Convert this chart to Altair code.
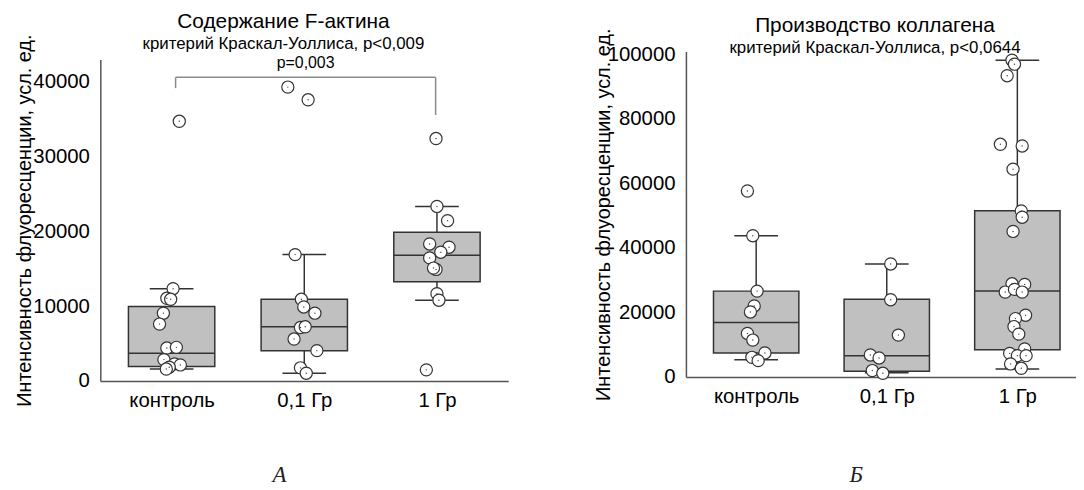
import json
import altair as alt
import pandas as pd

categories = ["контроль", "0,1 Гр", "1 Гр"]
y_title = "Интенсивность флуоресценции, усл. ед."

# ---------- Panel A: F-actin ----------
actin_title = "Содержание F-актина"
actin_subtitle = "критерий Краскал-Уоллиса, p<0,009"
actin_q1 = [1930, 4060, 13270]
actin_median = [3700, 7250, 16820]
actin_q3 = [9950, 10930, 19880]
actin_low = [1620, 1040, 10800]
actin_high = [12340, 16900, 23340]

actin_ctrl = [34730, 12340, 11060, 10930, 9070, 7610, 4410, 4500, 2860, 2290, 2150, 1840, 1600]
actin_ctrl_jit = [0.058, 0.011, -0.036, -0.007, -0.062, -0.091, -0.036, 0.036, -0.058, 0.022, 0.066, -0.018, -0.040]
actin_01 = [39300, 37600, 16900, 10930, 9900, 9070, 7150, 7250, 5610, 4060, 1760, 1040]
actin_01_jit = [-0.124, 0.029, -0.069, -0.022, -0.004, 0.080, -0.029, 0.007, -0.077, 0.095, -0.029, 0.015]
actin_1 = [32420, 23340, 21440, 18320, 17890, 17220, 16460, 14920, 15100, 11680, 10800, 1490]
actin_1_jit = [-0.007, 0.0, 0.080, -0.055, 0.091, 0.029, -0.055, -0.007, -0.026, 0.0, 0.015, -0.080]
actin_ticks = [0, 10000, 20000, 30000, 40000]

bracket_x = [0.53, 2.49]
bracket_top = 40600
bracket_ends = [39160, 35570]
p_label = "p=0,003"
p_label_y = 41820

# ---------- Panel Б: collagen ----------
coll_title = "Производство коллагена"
coll_subtitle = "критерий Краскал-Уоллиса, p<0,0644"
coll_q1 = [7450, 1780, 8460]
coll_median = [16860, 6600, 26620]
coll_q3 = [26600, 24060, 51450]
coll_low = [5380, 1290, 2520]
coll_high = [43750, 35000, 98090]

coll_ctrl = [57600, 43750, 26600, 22000, 20150, 13480, 11450, 7450, 6100, 5080]
coll_ctrl_jit = [-0.067, -0.026, 0.007, -0.015, -0.044, -0.067, -0.026, 0.067, -0.033, 0.015]
coll_01 = [35000, 23940, 12980, 6830, 5900, 2000, 1170]
coll_01_jit = [0.030, 0.030, 0.089, -0.126, -0.059, -0.111, -0.030]
coll_1 = [98090, 96860, 93290, 72060, 71540, 64370, 51450, 49480, 45080, 28870, 28680,
          26310, 27140, 26310, 19140, 18090, 15630, 13290, 8680, 7320, 6620, 6620, 4060, 2710]
coll_1_jit = [-0.041, -0.022, -0.078, -0.130, 0.037, -0.033, 0.030, 0.037, -0.033, -0.041, 0.056,
              -0.093, -0.022, 0.037, 0.063, -0.015, -0.026, 0.011, 0.056, -0.059, 0.0, 0.067, -0.052, 0.030]
coll_ticks = [0, 20000, 40000, 60000, 80000, 100000]

FONT = "Liberation Sans"
DARK = "#333333"


def make_panel(title, subtitle, q1, med, q3, lo, hi, groups, jitters, yticks,
               ydomain, yrange, height, width, xmax, letter, letter_x, letter_y,
               title_dx, title_offset, box_w, ytitle_x, bracket=None):
    idx = [i + 0.5 for i in range(len(categories))]
    box = pd.DataFrame({"idx": idx, "q1": q1, "med": med, "q3": q3, "lo": lo, "hi": hi})
    rows = []
    for i, (vals, jit) in enumerate(zip(groups, jitters)):
        for v, j in zip(vals, jit):
            rows.append({"idx": i + 0.5, "jit": j, "val": v})
    pts = pd.DataFrame(rows)

    label_expr = json.dumps(categories, ensure_ascii=False) + "[floor(datum.value)]"
    xscale = alt.Scale(domain=[0, xmax], nice=False, zero=False)
    xaxis = alt.Axis(values=idx, labelExpr=label_expr, labelFontSize=20.5, labelPadding=10,
                     labelFont=FONT, labelColor="black",
                     title=letter, titleFont="Liberation Serif", titleFontStyle="italic",
                     titleFontSize=23, titleFontWeight="normal", titleColor="#222222",
                     titleX=letter_x, titleY=letter_y, titleBaseline="alphabetic",
                     titleAlign="center")
    yscale_args = dict(domain=ydomain, nice=False, zero=False)
    if yrange is not None:
        yscale_args["range"] = yrange
    yscale = alt.Scale(**yscale_args)
    yaxis = alt.Axis(values=yticks, format="d", labelFontSize=20.5, labelPadding=11,
                     labelFont=FONT, labelColor="black",
                     title=y_title, titleFont=FONT, titleFontSize=20,
                     titleFontWeight="normal", titleColor="black", titleX=ytitle_x)

    def X(f):
        return alt.X(f, type="quantitative", scale=xscale, axis=xaxis)

    def Y(f):
        return alt.Y(f, type="quantitative", scale=yscale, axis=yaxis)

    base = alt.Chart(box)
    whisk = base.mark_rule(color=DARK, strokeWidth=1.5).encode(x=X("idx"), y=Y("lo"), y2="hi")
    cap_hi = base.mark_tick(orient="horizontal", size=44, thickness=1.5, color=DARK, opacity=1).encode(
        x=X("idx"), y=Y("hi"))
    cap_lo = base.mark_tick(orient="horizontal", size=44, thickness=1.5, color=DARK, opacity=1).encode(
        x=X("idx"), y=Y("lo"))
    boxes = base.mark_bar(width=box_w, fill="#c0c0c0", stroke=DARK, strokeWidth=1.5).encode(
        x=X("idx"), y=Y("q1"), y2="q3")
    median = base.mark_tick(orient="horizontal", size=box_w, thickness=1.5, color=DARK, opacity=1).encode(
        x=X("idx"), y=Y("med"))
    pbase = alt.Chart(pts).transform_calculate(xp="datum.idx + datum.jit")
    circles = pbase.mark_point(shape="circle", filled=True, fill="white", stroke=DARK,
                               strokeWidth=1.2, size=150, opacity=1).encode(x=X("xp"), y=Y("val"))
    dots = pbase.mark_circle(size=2, color="#444444", opacity=1).encode(x=X("xp"), y=Y("val"))

    layers = [whisk, cap_hi, cap_lo, boxes, median]
    if bracket is not None:
        bx, btop, bends, plab, ply = bracket
        hdf = pd.DataFrame({"x1": [bx[0]], "x2": [bx[1]], "y": [btop]})
        vdf = pd.DataFrame({"x": bx, "y1": [btop, btop], "y2": bends})
        tdf = pd.DataFrame({"x": [(bx[0] + bx[1]) / 2], "y": [ply], "t": [plab]})
        layers.append(alt.Chart(hdf).mark_rule(color="#8a8a8a", strokeWidth=1.5).encode(
            x=X("x1"), x2="x2", y=Y("y")))
        layers.append(alt.Chart(vdf).mark_rule(color="#8a8a8a", strokeWidth=1.5).encode(
            x=X("x"), y=Y("y1"), y2="y2"))
        layers.append(alt.Chart(tdf).mark_text(font=FONT, fontSize=16, color="black",
                                               align="center", baseline="alphabetic").encode(
            x=X("x"), y=Y("y"), text="t:N"))
    layers += [circles, dots]

    return alt.layer(*layers).properties(
        width=width, height=height,
        title=alt.TitleParams(text=title, subtitle=subtitle, anchor="middle", frame="group",
                              dx=title_dx, offset=title_offset, font=FONT, subtitleFont=FONT,
                              fontSize=21, subtitleFontSize=17, fontWeight="normal",
                              color="black", subtitleColor="black", subtitlePadding=4.5))


left = make_panel(actin_title, actin_subtitle, actin_q1, actin_median, actin_q3, actin_low, actin_high,
                  [actin_ctrl, actin_01, actin_1], [actin_ctrl_jit, actin_01_jit, actin_1_jit],
                  actin_ticks, [0, 43000], [332, 8], 332, 411, 3.0, "А", 180, 101,
                  -21, -18.5, 87, -66,
                  bracket=(bracket_x, bracket_top, bracket_ends, p_label, p_label_y))

right = make_panel(coll_title, coll_subtitle, coll_q1, coll_median, coll_q3, coll_low, coll_high,
                   [coll_ctrl, coll_01, coll_1], [coll_ctrl_jit, coll_01_jit, coll_1_jit],
                   coll_ticks, [0, 100800], None, 328, 393, 393 / 135, "Б", 171, 105,
                   -6, -28, 86, -73)

chart = alt.hconcat(left, right, spacing=85).properties(
    padding={"left": 6, "top": 1, "right": 0, "bottom": 0}
).configure_view(stroke=None).configure_axis(
    grid=False, ticks=False, tickSize=0, domainColor="#555555", domainWidth=1.5
)

chart.save("out.html", embed_options={"renderer": "svg", "actions": False})
